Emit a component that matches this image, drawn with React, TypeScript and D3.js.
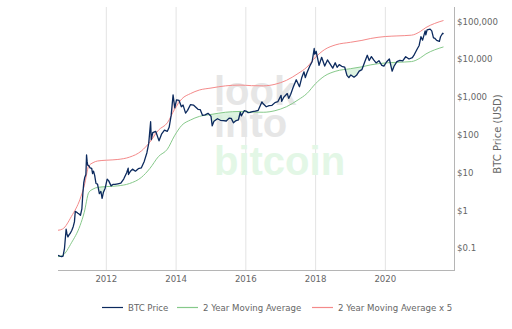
import React from "react";
import * as d3 from "d3";

const priceDates = [
  "2010-08-13","2010-09-01","2010-09-20","2010-10-05","2010-10-20","2010-11-06","2010-11-15","2010-11-25","2010-12-08","2010-12-20",
  "2011-01-05","2011-01-20","2011-02-01","2011-02-10","2011-02-25","2011-03-10","2011-03-25","2011-04-05","2011-04-20","2011-05-01",
  "2011-05-10","2011-05-20","2011-06-01","2011-06-08","2011-06-14","2011-06-20","2011-07-01","2011-07-15","2011-08-01","2011-08-10",
  "2011-08-20","2011-09-01","2011-09-15","2011-10-01","2011-10-20","2011-11-05","2011-11-18","2011-12-01","2011-12-20","2012-01-10",
  "2012-01-25","2012-02-20","2012-03-10","2012-04-01","2012-05-01","2012-06-01","2012-07-01","2012-08-01","2012-08-17","2012-08-20",
  "2012-09-10","2012-10-01","2012-11-01","2012-12-01","2013-01-01","2013-02-01","2013-03-01","2013-03-20","2013-04-09","2013-04-16",
  "2013-05-01","2013-06-01","2013-07-06","2013-08-01","2013-09-01","2013-10-01","2013-10-20","2013-11-10","2013-11-30","2013-12-18",
  "2014-01-05","2014-02-01","2014-02-25","2014-03-15","2014-04-10","2014-05-01","2014-06-01","2014-07-01","2014-08-18","2014-09-10",
  "2014-10-05","2014-11-01","2014-12-01","2015-01-01","2015-01-14","2015-02-01","2015-03-10","2015-04-10","2015-05-10","2015-06-10",
  "2015-07-10","2015-08-01","2015-08-24","2015-09-15","2015-10-15","2015-11-04","2015-11-15","2015-12-15","2016-01-10","2016-01-25",
  "2016-02-15","2016-03-10","2016-04-10","2016-05-10","2016-06-17","2016-07-01","2016-08-02","2016-09-01","2016-10-01","2016-11-01",
  "2016-12-01","2017-01-04","2017-01-11","2017-02-01","2017-03-10","2017-03-25","2017-04-15","2017-05-10","2017-06-12","2017-07-16",
  "2017-08-10","2017-09-01","2017-09-15","2017-10-01","2017-11-01","2017-11-25","2017-12-17","2017-12-22","2018-01-06","2018-02-06",
  "2018-03-05","2018-04-06","2018-05-05","2018-06-29","2018-07-25","2018-08-14","2018-09-05","2018-10-01","2018-11-01","2018-11-25",
  "2018-12-15","2019-01-05","2019-02-07","2019-03-05","2019-04-02","2019-05-01","2019-05-30","2019-06-26","2019-07-16","2019-08-08",
  "2019-09-01","2019-09-26","2019-10-26","2019-11-25","2019-12-17","2020-01-15","2020-02-12","2020-03-12","2020-04-01","2020-05-01",
  "2020-06-01","2020-07-01","2020-08-01","2020-09-05","2020-10-10","2020-11-01","2020-12-01","2020-12-20","2021-01-08","2021-01-25",
  "2021-02-21","2021-02-28","2021-03-13","2021-04-14","2021-05-01","2021-05-19","2021-06-01","2021-06-22","2021-07-20","2021-08-01",
  "2021-08-23","2021-09-01"
];
const priceValues = [
  0.065,0.062,0.06,0.062,0.1,0.32,0.24,0.2,0.23,0.25,
  0.3,0.38,0.5,0.95,0.9,0.85,0.8,0.75,1.1,3.0,
  5.5,7.5,9,29.5,20,16,15.5,13.5,13,9.5,
  11,8.5,5.2,5,2.8,3.2,2.1,3,3.9,6.8,
  6.2,4.5,4.9,4.9,5.1,5.3,6.8,10,13.2,9,
  11,12.5,11,12.8,13.4,20,34,60,225,75,
  115,125,70,105,135,125,160,330,1150,520,
  850,820,560,620,380,450,640,620,480,470,
  330,340,375,315,175,230,270,245,240,235,
  280,275,210,235,250,400,320,440,420,390,
  400,415,430,450,750,670,560,600,610,720,
  760,1120,780,1000,1250,930,1200,1800,2900,1900,
  3400,4700,3300,4400,6700,8700,19500,13800,16500,7000,
  11400,6700,9700,5900,8200,6200,7300,6600,6300,3800,
  3300,3900,3400,3800,4900,5400,8600,12900,9400,11900,
  9700,8100,9300,7000,6700,8700,10300,4900,6600,8800,
  9500,9200,11800,10300,11200,13700,19200,23500,40000,32500,
  57000,45000,61000,63500,57000,37500,36500,32000,30000,40000,
  49500,47000
];

const maDates = [
  "2010-08-13","2010-10-01","2011-01-01","2011-04-01","2011-05-15","2011-07-01","2011-08-15","2011-10-01","2012-01-01","2012-05-01",
  "2012-09-01","2013-01-01","2013-04-01","2013-07-01","2013-10-01","2013-12-15","2014-03-01","2014-06-01","2014-09-01","2015-01-01",
  "2015-06-01","2015-11-01","2016-03-01","2016-07-01","2016-11-01","2017-03-01","2017-07-01","2017-10-01","2018-01-01","2018-04-01",
  "2018-08-01","2019-01-01","2019-05-01","2019-08-01","2020-01-01","2020-05-01","2020-10-01","2021-01-01","2021-03-01","2021-06-01",
  "2021-09-01"
];
const maValues = [
  0.06,0.065,0.14,0.4,0.9,3.0,3.7,4.1,4.3,4.5,
  5.2,7.5,13,27,42,95,180,250,310,350,
  400,420,405,400,440,560,850,1250,2300,3600,
  4900,5700,6400,7200,8100,8400,8800,11000,14000,18000,
  21500
];
const ma5Values = [
  0.3,0.325,0.7,2.0,4.5,15,18.5,20.5,21.5,22.5,
  26,37.5,65,135,210,475,900,1250,1550,1750,
  2000,2100,2025,2000,2200,2800,4250,6250,11500,18000,
  24500,28500,32000,36000,40500,42000,44000,55000,70000,90000,
  107500
];

const xTicks = [2012, 2014, 2016, 2018, 2020];
const yTicks = [0.1, 1, 10, 100, 1000, 10000, 100000];
const yTickLabels = ["$0.1", "$1", "$10", "$100", "$1,000", "$10,000", "$100,000"];
const legendLabels = ["BTC Price", "2 Year Moving Average", "2 Year Moving Average x 5"];

const W = 512, H = 329;
const L = 58, R = 454, T = 7, B = 270;
const PRICE = "#0c2a5e", GREEN = "#86c98a", RED = "#f48a8a";
const FONT = "'DejaVu Sans', Verdana, sans-serif";

export default function App() {
  const parse = d3.timeParse("%Y-%m-%d");
  const x = d3.scaleTime().domain([parse("2010-08-13")!, parse("2021-12-20")!]).range([L, R]);
  const y = d3.scaleLog().domain([0.1, 100000]).range([248.3, 21.7]);

  const price = priceDates.map((d, i) => ({ d: parse(d)!, v: priceValues[i] }));
  const ma = maDates.map((d, i) => ({ d: parse(d)!, v: maValues[i] }));
  const ma5 = maDates.map((d, i) => ({ d: parse(d)!, v: ma5Values[i] }));

  const line = d3.line<{ d: Date; v: number }>().x(p => x(p.d)).y(p => y(p.v)).curve(d3.curveMonotoneX);
  const lineLin = d3.line<{ d: Date; v: number }>().x(p => x(p.d)).y(p => y(p.v));

  // areas for fills
  const priceUp = d3.area<{ d: Date; v: number }>().x(p => x(p.d)).y0(p => y(p.v)).y1(T);
  const priceDown = d3.area<{ d: Date; v: number }>().x(p => x(p.d)).y0(p => y(p.v)).y1(B);
  const maBelow = d3.area<{ d: Date; v: number }>().x(p => x(p.d)).y0(p => y(p.v)).y1(B).curve(d3.curveMonotoneX);
  const ma5Above = d3.area<{ d: Date; v: number }>().x(p => x(p.d)).y0(p => y(p.v)).y1(T).curve(d3.curveMonotoneX);

  const legendItems = [
    { label: legendLabels[0], color: PRICE, x1: 102 },
    { label: legendLabels[1], color: GREEN, x1: 177 },
    { label: legendLabels[2], color: RED, x1: 312 },
  ];

  return (
    <svg width={W} height={H} style={{ position: "absolute", left: 0, top: 0, background: "#fff" }}>
      <defs>
        <clipPath id="plot"><rect x={L} y={T} width={R - L} height={B - T} /></clipPath>
        <clipPath id="belowMA"><path d={maBelow(ma) || ""} /></clipPath>
        <clipPath id="aboveMA5"><path d={ma5Above(ma5) || ""} /></clipPath>
      </defs>
      {xTicks.map(t => {
        const xx = x(new Date(t, 0, 1));
        return <line key={t} x1={xx} x2={xx} y1={T} y2={B} stroke="#e3e3e3" strokeWidth={1} />;
      })}
      <g fontFamily="'Liberation Sans', Arial, sans-serif" fontWeight="bold" fontSize={40}>
        <text x={214} y={105} fill="#e6e6e6">look</text>
        <text x={214} y={137} fill="#e6e6e6">into</text>
        <text x={214} y={175} fill="#e3f7e6">bitcoin</text>
      </g>
      <g clipPath="url(#plot)">
        <g clipPath="url(#belowMA)">
          <path d={priceUp(price) || ""} fill="#d5f0da" opacity={0.8} />
        </g>
        <g clipPath="url(#aboveMA5)">
          <path d={priceDown(price) || ""} fill="#fbdcdc" opacity={0.8} />
        </g>
        <path d={line(ma5) || ""} fill="none" stroke={RED} strokeWidth={1} />
        <path d={line(ma) || ""} fill="none" stroke={GREEN} strokeWidth={1} />
        <path d={lineLin(price) || ""} fill="none" stroke={PRICE} strokeWidth={1.3} strokeLinejoin="round" />
      </g>
      <line x1={L} x2={R} y1={B + 0.5} y2={B + 0.5} stroke="#b5b5b5" />
      <line x1={R + 0.5} x2={R + 0.5} y1={T} y2={B + 1} stroke="#b5b5b5" />
      <g fontFamily={FONT} fontSize={8.6} fill="#666">
        {xTicks.map(t => (
          <text key={t} x={x(new Date(t, 0, 1))} y={281.5} textAnchor="middle">{t}</text>
        ))}
        {yTicks.map((t, i) => (
          <text key={t} x={457} y={y(t) + 3} textAnchor="start">{yTickLabels[i]}</text>
        ))}
      </g>
      <text transform="translate(501,134) rotate(-90)" textAnchor="middle" fontFamily={FONT} fontSize={10} fill="#666">BTC Price (USD)</text>
      <g fontFamily={FONT} fontSize={8.6} fill="#666">
        {legendItems.map(it => (
          <g key={it.label}>
            <line x1={it.x1} x2={it.x1 + 21} y1={307.5} y2={307.5} stroke={it.color} strokeWidth={1.2} />
            <text x={it.x1 + 26} y={310.5}>{it.label}</text>
          </g>
        ))}
      </g>
    </svg>
  );
}
